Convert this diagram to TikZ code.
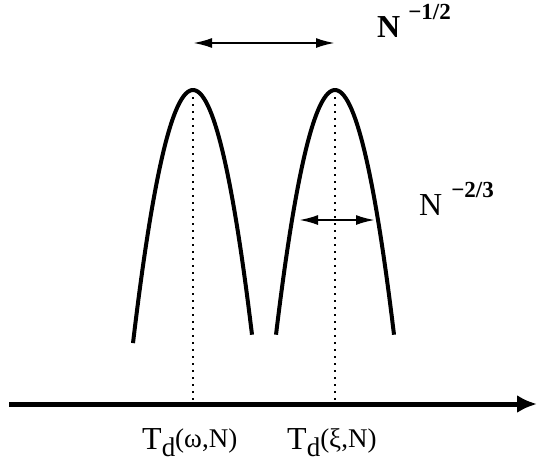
\documentclass[tikz,border=0pt]{standalone}
\usepackage{fontspec}
\setmainfont{Liberation Serif}
\usetikzlibrary{arrows.meta}
\begin{document}
\begin{tikzpicture}[x=1pt,y=-1pt,
  curve/.style={line width=4pt},
  dimarrow/.style={line width=2.2pt,{Latex[length=19pt,width=10pt]}-{Latex[length=19pt,width=10pt]}},
  axisline/.style={line width=5pt,-{Latex[length=20pt,width=18pt]}},
  guide/.style={line width=2pt,dash pattern=on 2pt off 5pt},
  lbl/.style={inner sep=0pt,anchor=base west}]
\useasboundingbox (0,0) rectangle (537,461);
% peaks and axis points
\coordinate (pL) at (193,90);
\coordinate (pR) at (335,90);
\coordinate (fL) at (193,404);
\coordinate (fR) at (335,404);
\coordinate (axL) at (9,404);
\coordinate (axR) at (537,404);
% parabolas
\draw[curve] plot[domain=-60:59,samples=60,smooth] ({193+\x},{90+0.0703*\x*\x});
\draw[curve] plot[domain=-59:59,samples=60,smooth] ({335+\x},{90+0.0703*\x*\x});
% dotted guides
\draw[guide] (pL) -- (fL);
\draw[guide] (pR) -- (fR);
% axis
\draw[axisline] (axL) -- (axR);
% width arrows
\draw[dimarrow] (pL |- 0,43) -- (pR |- 0,43);
\coordinate (wL) at (299,220);
\coordinate (wR) at (375,220);
\draw[dimarrow] (wL) -- (wR);
% labels
\node[lbl] (n1) at (377,37) {\fontsize{32}{32}\selectfont\textbf{N}\hspace{8pt}\raisebox{18pt}{\fontsize{23}{23}\selectfont\textbf{\symbol{"2212}1/2}}};
\node[lbl] (n2) at (419,215) {\fontsize{32}{32}\selectfont N\hspace{9pt}\raisebox{18pt}{\fontsize{23}{23}\selectfont\textbf{\symbol{"2212}2/3}}};
\node[lbl] (t1) at (142,449) {\fontsize{32}{32}\selectfont T\raisebox{-7pt}{\fontsize{27}{27}\selectfont d}\raisebox{2pt}{\fontsize{27}{27}\selectfont(ω,N)}};
\node[lbl] (t2) at (287,449) {\fontsize{32}{32}\selectfont T\raisebox{-7pt}{\fontsize{27}{27}\selectfont d}\raisebox{2pt}{\fontsize{27}{27}\selectfont(ξ,N)}};
\end{tikzpicture}
\end{document}
